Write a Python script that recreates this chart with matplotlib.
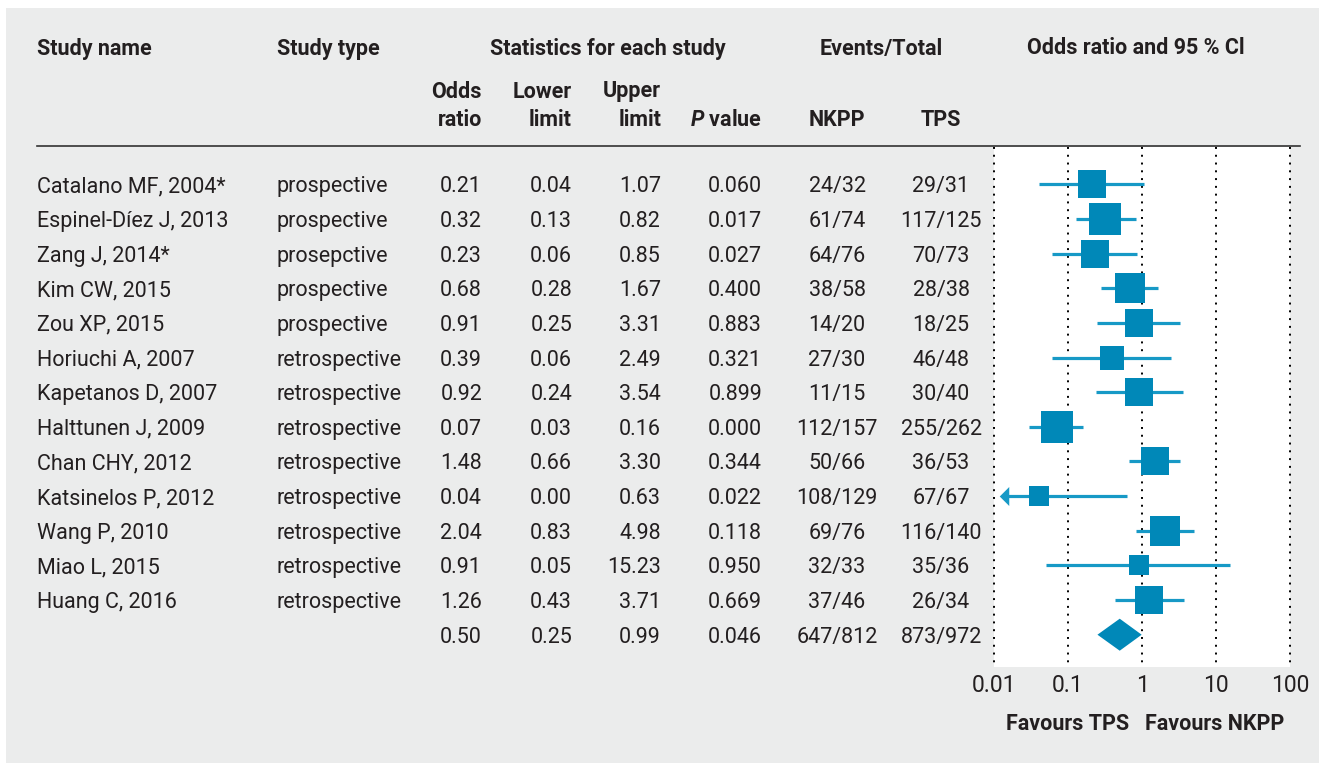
import numpy as np
import matplotlib
matplotlib.use("Agg")
import matplotlib.pyplot as plt
from matplotlib import transforms
from matplotlib.patches import Rectangle, Polygon

plt.rcParams['font.family'] = ['Roboto', 'DejaVu Sans']
plt.rcParams['mathtext.fontset'] = 'custom'
plt.rcParams['mathtext.it'] = 'Roboto:style=italic:weight=bold'
plt.rcParams['mathtext.rm'] = 'Roboto:weight=bold'

# ---- data ----
names = ["Catalano MF, 2004*", "Espinel-Díez J, 2013", "Zang J, 2014*", "Kim CW, 2015",
         "Zou XP, 2015", "Horiuchi A, 2007", "Kapetanos D, 2007", "Halttunen J, 2009",
         "Chan CHY, 2012", "Katsinelos P, 2012", "Wang P, 2010", "Miao L, 2015",
         "Huang C, 2016"]
types = ["prospective", "prospective", "prosepctive", "prospective", "prospective",
         "retrospective", "retrospective", "retrospective", "retrospective",
         "retrospective", "retrospective", "retrospective", "retrospective"]
odds = [0.21, 0.32, 0.23, 0.68, 0.91, 0.39, 0.92, 0.07, 1.48, 0.04, 2.04, 0.91, 1.26]
lower = [0.04, 0.13, 0.06, 0.28, 0.25, 0.06, 0.24, 0.03, 0.66, 0.00, 0.83, 0.05, 0.43]
upper = [1.07, 0.82, 0.85, 1.67, 3.31, 2.49, 3.54, 0.16, 3.30, 0.63, 4.98, 15.23, 3.71]
pvals = [0.060, 0.017, 0.027, 0.400, 0.883, 0.321, 0.899, 0.000, 0.344, 0.022, 0.118, 0.950, 0.669]
nkpp_events = [24, 61, 64, 38, 14, 27, 11, 112, 50, 108, 69, 32, 37]
nkpp_total = [32, 74, 76, 58, 20, 30, 15, 157, 66, 129, 76, 33, 46]
tps_events = [29, 117, 70, 28, 18, 46, 30, 255, 36, 67, 116, 35, 26]
tps_total = [31, 125, 73, 38, 25, 48, 40, 262, 53, 67, 140, 36, 34]
weights = [7.6, 10.0, 8.1, 9.4, 8.1, 6.0, 7.6, 10.6, 7.6, 3.8, 9.4, 3.8, 8.1]

pooled_or, pooled_lo, pooled_hi, pooled_p = 0.50, 0.25, 0.99, 0.046
pooled_nkpp = (647, 812)
pooled_tps = (873, 972)

ticks = [0.01, 0.1, 1, 10, 100]
tick_labels = ["0.01", "0.1", "1", "10", "100"]

# ---- style ----
W, H = 1319, 763
BG = "#ebecec"
TXT = "#231f20"
SQ = "#0088b8"
LN = "#1799c6"
FS = 15.5


def fx(px):
    return px / W


def fy(py):
    return 1 - py / H


fig = plt.figure(figsize=(W / 100, H / 100), dpi=100)
fig.patch.set_facecolor("white")
fig.patches.append(Rectangle((fx(6), 0), 1 - fx(6), fy(8), transform=fig.transFigure,
                             facecolor=BG, edgecolor="none", zorder=-10))

# forest plot axes
ax_l, ax_r, ax_t, ax_b = 994, 1290, 147, 667
ax = fig.add_axes([fx(ax_l), fy(ax_b), fx(ax_r - ax_l), (ax_b - ax_t) / H])
ax.set_facecolor("white")
ax.set_xscale("log")
ax.set_xlim(0.01, 100)
n = len(names)
ax.set_ylim(n + 0.932, -1.076)
for s in ax.spines.values():
    s.set_visible(False)
ax.set_yticks([])
ax.set_xticks(ticks)
ax.set_xticklabels(tick_labels, fontsize=16.5, color=TXT)
ax.xaxis.set_minor_locator(matplotlib.ticker.NullLocator())
ax.tick_params(axis="x", length=0, pad=5)

ylo, yhi = ax.get_ylim()
ax.vlines(ticks, yhi, ylo, colors="black", linestyles=(0, (1, 3.0)), lw=1.4,
          clip_on=False, zorder=1)

xmin = ax.get_xlim()[0]
for i in range(n):
    lo = max(lower[i], xmin * 10 ** (10 / 73.5))
    ax.plot([lo, upper[i]], [i, i], color=LN, lw=2.3, solid_capstyle="butt", zorder=2)
    side = 32 * np.sqrt(weights[i] / max(weights))
    ax.plot(odds[i], i, marker="s", ms=side * 0.72, color=SQ, mew=0, zorder=3)
    if lower[i] < xmin:
        arrow = [(-0.5, 0), (0.5, 1), (0.5, -1), (-0.5, 0)]
        ax.plot(lo, i, marker=arrow, ms=19 * 0.72, color=LN, mew=0, zorder=3)

# pooled diamond
h = 16 / 34.65
ax.add_patch(Polygon([(pooled_lo, n), (pooled_or, n - h), (pooled_hi, n), (pooled_or, n + h)],
                     closed=True, facecolor=SQ, edgecolor="none", zorder=3))

# ---- table text ----
tr = transforms.blended_transform_factory(fig.transFigure, ax.transData)


def cell(px, row, s, ha, weight="normal"):
    fig.text(fx(px), row, s, transform=tr, ha=ha, va="center_baseline",
             fontsize=FS, color=TXT, fontweight=weight)


for i in range(n):
    cell(37, i, names[i], "left")
    cell(277, i, types[i], "left")
    cell(482, i, f"{odds[i]:.2f}", "right")
    cell(572, i, f"{lower[i]:.2f}", "right")
    cell(661, i, f"{upper[i]:.2f}", "right")
    cell(762, i, f"{pvals[i]:.3f}", "right")
    cell(837, i, f"{nkpp_events[i]}/{nkpp_total[i]}", "center")
    cell(941, i, f"{tps_events[i]}/{tps_total[i]}", "center")

cell(482, n, f"{pooled_or:.2f}", "right")
cell(572, n, f"{pooled_lo:.2f}", "right")
cell(661, n, f"{pooled_hi:.2f}", "right")
cell(762, n, f"{pooled_p:.3f}", "right")
cell(837, n, f"{pooled_nkpp[0]}/{pooled_nkpp[1]}", "center")
cell(941, n, f"{pooled_tps[0]}/{pooled_tps[1]}", "center")

# ---- headers ----
def head(px, py, s, ha):
    fig.text(fx(px), fy(py), s, ha=ha, va="center_baseline", fontsize=FS,
             fontweight="bold", color=TXT)


head(37, 46, "Study name", "left")
head(277, 46, "Study type", "left")
head(608, 46, "Statistics for each study", "center")
head(881, 46, "Events/Total", "center")
head(1136, 46, "Odds ratio and 95 % Cl", "center")
head(482, 89, "Odds", "right")
head(482, 118, "ratio", "right")
head(572, 89, "Lower", "right")
head(572, 118, "limit", "right")
head(661, 89, "Upper", "right")
head(661, 118, "limit", "right")
head(762, 118, "$P$ value", "right")
head(837, 118, "NKPP", "center")
head(941, 118, "TPS", "center")

fig.add_artist(plt.Line2D([fx(37), fx(1300)], [fy(146), fy(146)], color="#333333", lw=1.2))

head(1068, 721, "Favours TPS", "center")
head(1215, 721, "Favours NKPP", "center")

fig.savefig("out.png", dpi=100, facecolor=fig.get_facecolor())
